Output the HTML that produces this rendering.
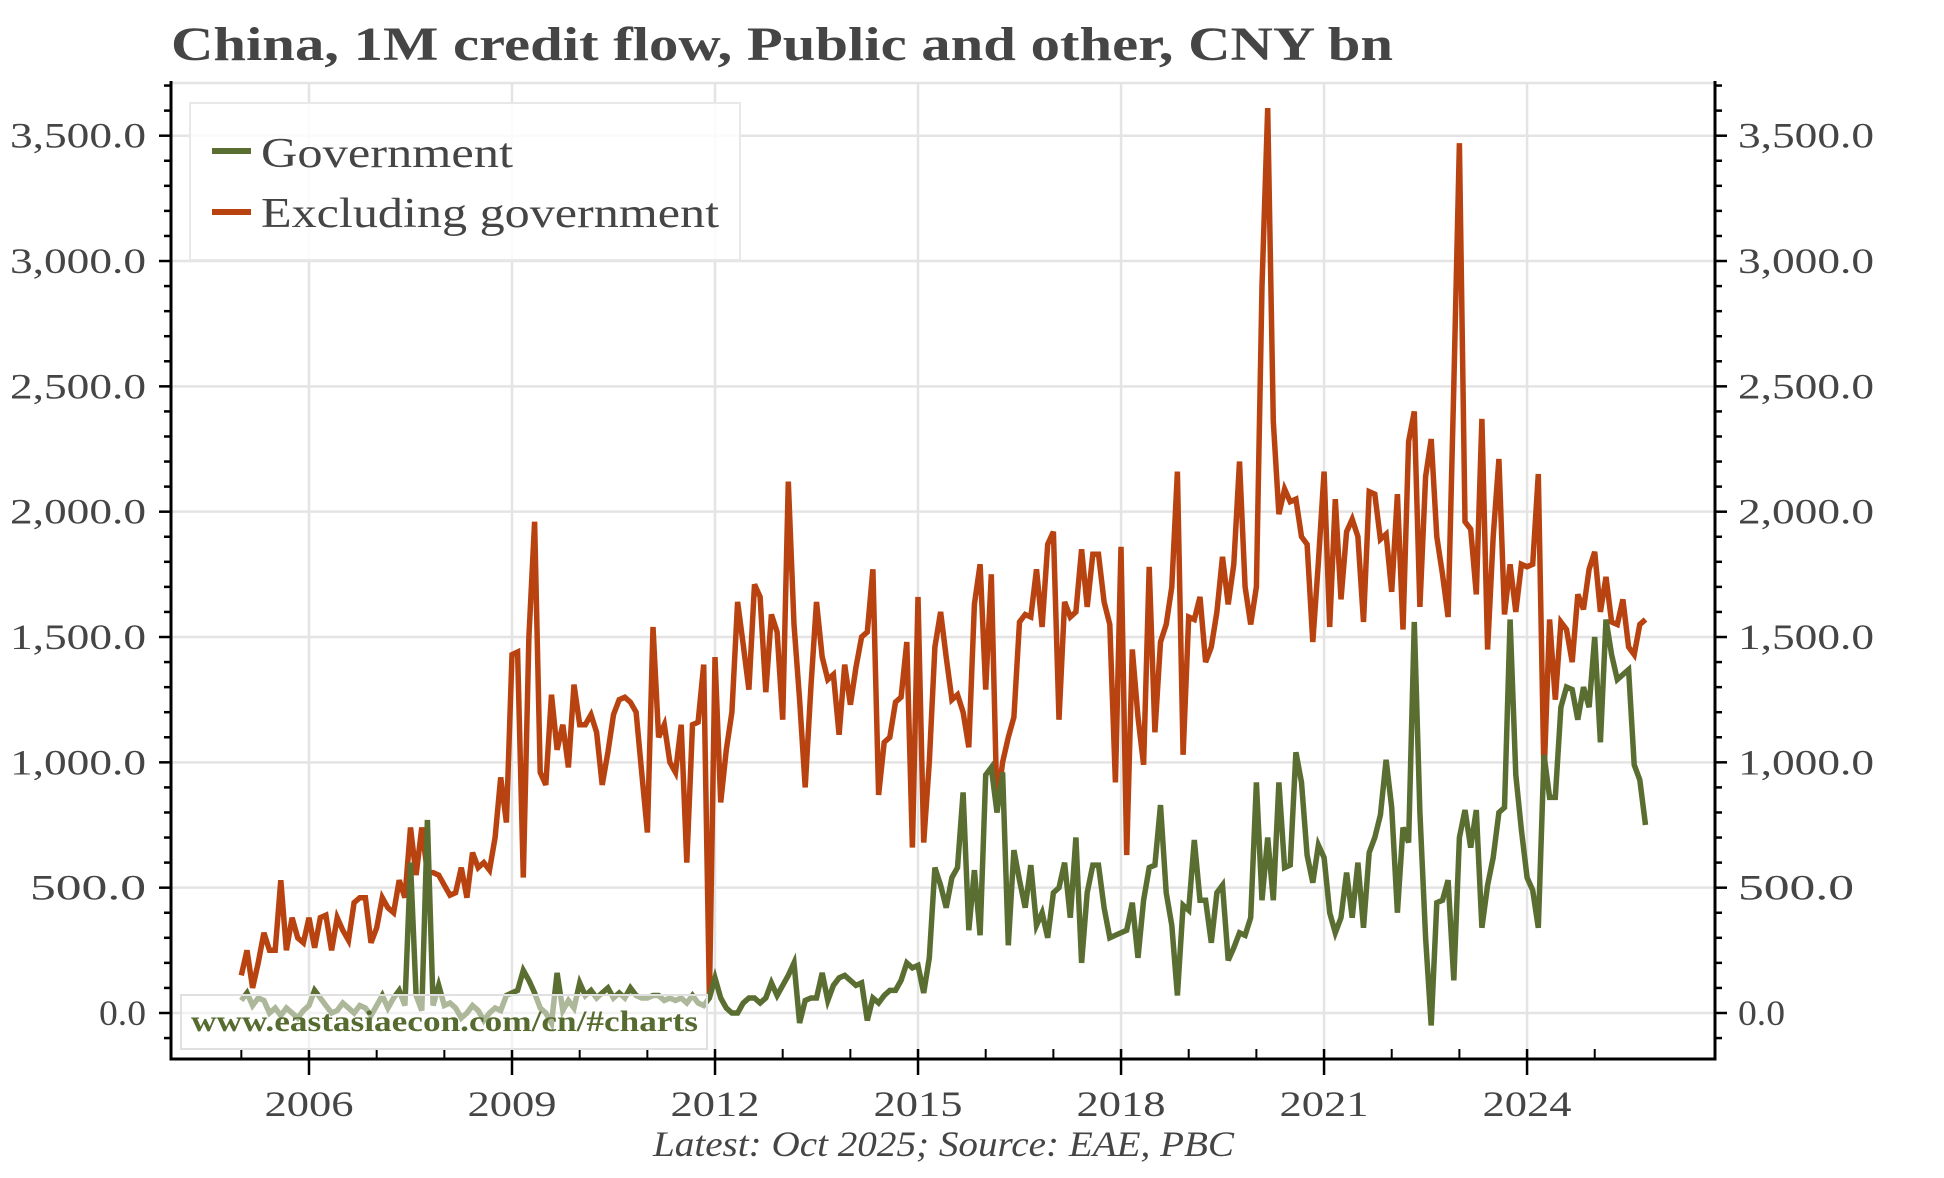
<!DOCTYPE html>
<html><head><meta charset="utf-8"><style>html,body{margin:0;padding:0;background:#fff}svg{display:block}text{font-family:"Liberation Serif",serif;fill:#454545}</style></head>
<body>
<svg id="c" width="1944" height="1178" viewBox="0 0 1944 1178" xmlns="http://www.w3.org/2000/svg">
<text x="171" y="60" font-size="48" font-weight="bold" textLength="1222" lengthAdjust="spacingAndGlyphs">China, 1M credit flow, Public and other, CNY bn</text>
<g id="grid"></g>
<g id="series"></g>
<g id="axes"></g>
<rect x="190" y="103" width="550" height="157" fill="#fff" fill-opacity="0.85" stroke="#e8e8e8" stroke-width="2"/>
<line x1="212" y1="151" x2="251" y2="151" stroke="#5a6e32" stroke-width="6"/>
<line x1="212" y1="212" x2="251" y2="212" stroke="#b94310" stroke-width="6"/>
<text x="261" y="167" font-size="42" textLength="252" lengthAdjust="spacingAndGlyphs">Government</text>
<text x="261" y="227" font-size="42" textLength="458" lengthAdjust="spacingAndGlyphs">Excluding government</text>
<rect x="181" y="995" width="526" height="54" fill="#fff" fill-opacity="0.5" stroke="#e0e0e0" stroke-width="2"/>
<text x="191" y="1031" font-size="30" font-weight="bold" style="fill:#566b30" textLength="507" lengthAdjust="spacingAndGlyphs">www.eastasiaecon.com/cn/#charts</text>
<text x="653" y="1156" font-size="36" font-style="italic" textLength="581" lengthAdjust="spacingAndGlyphs">Latest: Oct 2025; Source: EAE, PBC</text>
</svg>
<script>
var exg=[150,250,100,200,320,250,250,530,250,380,300,280,
380,260,380,390,250,380,330,290,440,460,460,280,
340,460,420,400,530,460,740,550,740,560,560,550,
510,470,480,580,460,640,580,600,570,700,940,760,
1430,1440,540,1500,1960,960,910,1270,1050,1150,980,1310,
1150,1150,1190,1120,910,1040,1190,1250,1260,1240,1200,960,
720,1540,1100,1150,1000,960,1150,600,1150,1160,1390,60,
1420,840,1050,1200,1640,1470,1290,1710,1660,1280,1590,1520,
1170,2120,1550,1250,900,1300,1640,1420,1330,1350,1110,1390,
1230,1380,1500,1520,1770,870,1080,1100,1240,1260,1480,660,
1660,680,1000,1460,1600,1420,1250,1270,1200,1060,1630,1790,
1290,1750,820,1000,1100,1180,1560,1590,1580,1770,1540,1870,
1920,1170,1640,1580,1600,1850,1620,1830,1830,1640,1550,920,
1860,630,1450,1180,990,1780,1120,1480,1550,1700,2160,1030,
1580,1570,1660,1400,1460,1600,1820,1630,1790,2200,1700,1550,
1700,2900,3610,2360,1990,2090,2040,2050,1900,1870,1480,1800,
2160,1540,2050,1650,1920,1970,1900,1560,2080,2070,1890,1910,
1680,2070,1530,2280,2400,1620,2140,2290,1900,1750,1580,2500,
3470,1960,1930,1670,2370,1450,1900,2210,1590,1790,1600,1790,
1780,1790,2150,940,1570,1250,1560,1530,1400,1670,1610,1770,
1840,1600,1740,1560,1550,1650,1460,1430,1550,1570];
var gov=[50,80,30,60,50,0,20,-10,20,0,-20,10,
30,90,60,30,0,10,40,20,0,30,20,-10,
30,70,20,60,90,30,600,70,10,770,30,110,
30,40,20,-20,0,30,10,-30,0,20,10,70,
80,90,170,130,80,20,0,-40,160,10,50,20,
120,70,90,60,80,100,60,80,60,100,70,60,
60,70,70,50,60,50,60,40,70,40,30,60,
140,60,20,0,0,40,60,60,40,60,120,70,
110,150,200,-40,50,60,60,160,50,110,140,150,
130,110,120,-30,60,40,70,90,90,130,200,180,
190,80,220,580,510,420,540,580,880,330,570,310,
950,980,800,960,270,650,530,420,590,350,400,300,
480,500,600,380,700,200,480,590,590,420,300,310,
320,330,440,220,450,580,590,830,480,350,70,430,
410,690,450,450,280,480,510,210,260,320,310,380,
920,450,700,450,920,580,590,1040,920,630,520,670,
620,400,320,380,560,380,600,340,640,700,790,1010,
820,400,740,680,1560,800,300,-50,440,450,530,130,
700,810,660,810,340,510,620,800,820,1570,950,730,
540,490,340,1030,860,860,1220,1300,1290,1170,1300,1220,
1500,1080,1570,1430,1330,1350,1370,990,930,750];
var NS="http://www.w3.org/2000/svg";
function X(i){return 309+(2005+i/12-2006)*67.67;}
function Y(v){return 1013-v*0.25066;}
function el(p,t,a,txt){var e=document.createElementNS(NS,t);for(var k in a)e.setAttribute(k,a[k]);if(txt)e.textContent=txt;document.getElementById(p).appendChild(e);return e;}
var L=171,R=1715,T=83,B=1059;
for(var v=0;v<=3500;v+=500)el("grid","line",{x1:L,x2:R,y1:Y(v),y2:Y(v),stroke:"#e4e4e4","stroke-width":2.5});
for(var y=2006;y<=2024;y+=3){var x=309+(y-2006)*67.67;el("grid","line",{x1:x,x2:x,y1:T,y2:B,stroke:"#e4e4e4","stroke-width":2.5});}
el("grid","line",{x1:L,x2:R,y1:T,y2:T,stroke:"#e4e4e4","stroke-width":2.5});
function pts(a){return a.map(function(v,i){return X(i).toFixed(1)+","+Y(v).toFixed(1)}).join(" ");}
el("series","polyline",{points:pts(exg),fill:"none",stroke:"#b94310","stroke-width":5.5,"stroke-linejoin":"miter"});
el("series","polyline",{points:pts(gov),fill:"none",stroke:"#5a6e32","stroke-width":5.5,"stroke-linejoin":"miter"});
el("axes","line",{x1:L,x2:L,y1:T-2,y2:B+1.5,stroke:"#000","stroke-width":3});
el("axes","line",{x1:R,x2:R,y1:T-2,y2:B+1.5,stroke:"#000","stroke-width":3});
el("axes","line",{x1:L,x2:R,y1:B,y2:B,stroke:"#000","stroke-width":3});
for(var v=-100;v<=3700;v+=100){var yy=Y(v);if(yy<T-3||yy>B)continue;var maj=(v%500==0);var len=maj?12:7;
el("axes","line",{x1:L-len,x2:L,y1:yy,y2:yy,stroke:"#000","stroke-width":2.5});
el("axes","line",{x1:R,x2:R+len,y1:yy,y2:yy,stroke:"#000","stroke-width":2.5});
if(maj&&v>=0){var s=v.toLocaleString("en-US")+".0";var w=v==0?47:(v<1000?116:136);
el("axes","text",{x:146,y:yy+12,"font-size":36,"text-anchor":"end",textLength:w,lengthAdjust:"spacingAndGlyphs"},s);
el("axes","text",{x:1738,y:yy+12,"font-size":36,textLength:w,lengthAdjust:"spacingAndGlyphs"},s);}}
for(var y=2005;y<=2025;y++){var x=309+(y-2006)*67.67;var maj=((y-2006)%3==0);
if(maj){el("axes","line",{x1:x,x2:x,y1:B-10,y2:B+16,stroke:"#000","stroke-width":2.5});
el("axes","text",{x:x,y:1116,"font-size":36,"text-anchor":"middle",textLength:89,lengthAdjust:"spacingAndGlyphs"},""+y);}
else el("axes","line",{x1:x,x2:x,y1:B-10,y2:B,stroke:"#000","stroke-width":2});}
</script>
</body></html>
